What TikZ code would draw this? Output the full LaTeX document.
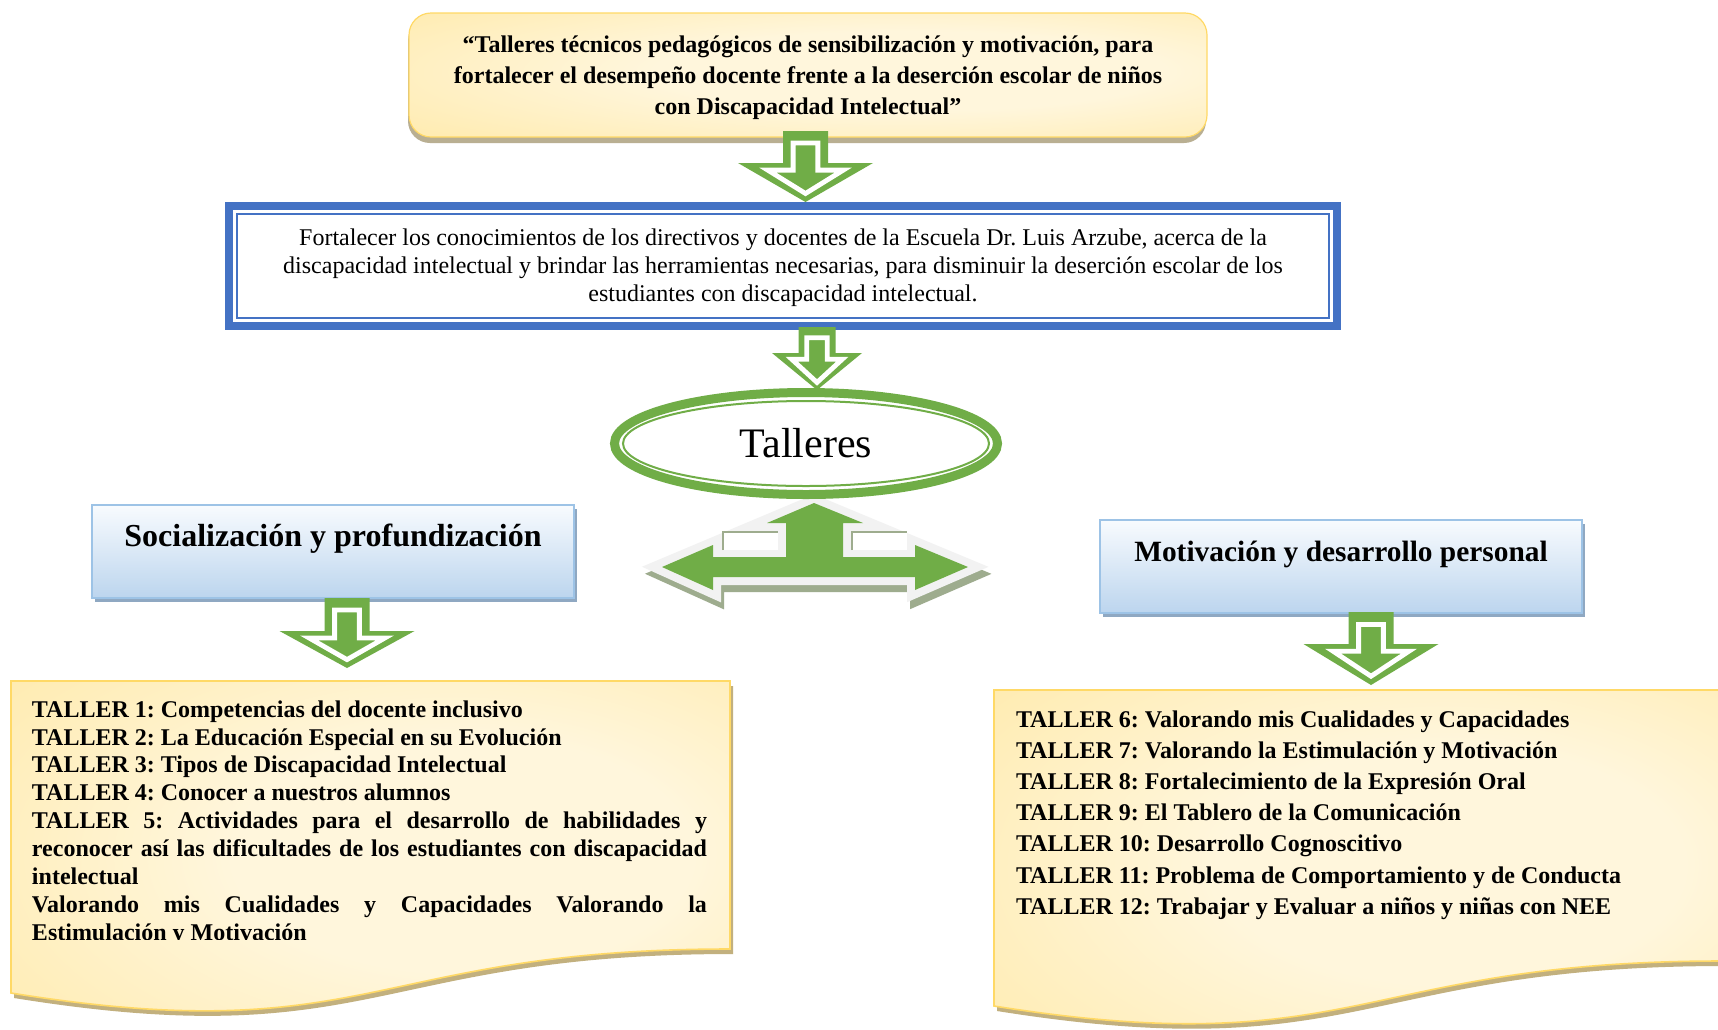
\documentclass[tikz,border=0pt]{standalone}
\usepackage{fontspec}
\setmainfont{Liberation Serif}
\usetikzlibrary{shapes.geometric,shadows}
\frenchspacing
\definecolor{agreen}{HTML}{70AD47}
\definecolor{ablue}{HTML}{4472C4}
\definecolor{ydark}{HTML}{FFD75C}
\definecolor{ymid}{HTML}{FFE8A2}
\definecolor{ylight}{HTML}{FFF6DC}
\definecolor{yborder}{HTML}{FFD966}
\definecolor{docshadow}{HTML}{C2B07E}
\definecolor{tshadow}{HTML}{B9AF92}
\definecolor{hdrtop}{HTML}{F8FBFE}
\definecolor{hdrbot}{HTML}{BCD5EE}
\definecolor{hdrborder}{HTML}{9DC3E6}
\definecolor{hdrshadow}{HTML}{8FA8C2}
\definecolor{bevel}{HTML}{F2F2F2}
\definecolor{trishadow}{HTML}{9EAC8E}
\pgfdeclareradialshading{docshade}{\pgfpoint{8bp}{2bp}}{color(0bp)=(ylight); color(16bp)=(ylight); color(46bp)=(ymid); color(80bp)=(ydark)}
\newcommand{\blockarrow}[6]{%
  \pgfmathsetmacro\baH{#4-#2}%
  \pgfmathsetmacro\baTi{#2+0.17*\baH}%
  \pgfmathsetmacro\baHi{#3+0.1*\baH}%
  \pgfmathsetmacro\baPi{#4-0.12*\baH}%
  \pgfmathsetmacro\baSi{0.55*#5}%
  \pgfmathsetmacro\baWi{0.56*#6}%
  \fill[agreen] ({#1-#5},#2) -- ({#1+#5},#2) -- ({#1+#5},#3) -- ({#1+#6},#3) -- (#1,#4) -- ({#1-#6},#3) -- ({#1-#5},#3) -- cycle;
  \filldraw[fill=agreen, draw=white, line width=2.4pt, line join=miter] ({#1-\baSi},\baTi) -- ({#1+\baSi},\baTi) -- ({#1+\baSi},\baHi) -- ({#1+\baWi},\baHi) -- (#1,\baPi) -- ({#1-\baWi},\baHi) -- ({#1-\baSi},\baHi) -- cycle;
}
\newcommand{\leftdoc}{(11,681) -- (730,681) -- (730,949) .. controls (370.5,949) and (370.5,1051) .. (11,993) -- cycle}
\newcommand{\rightdoc}{(994,690) -- (1722,690) -- (1722,961) .. controls (1358,961) and (1358,1064) .. (994,1006) -- cycle}
\newcommand{\trihull}{(814,503) -- (968,567) -- (915,590) -- (915,577) -- (713,577) -- (713,590) -- (662,567) -- cycle}
\newcommand{\trishape}{(814,503) -- (863,523) -- (843,523) -- (843,557) -- (915,557) -- (915,545) -- (968,567) -- (915,590) -- (915,577) -- (713,577) -- (713,590) -- (662,567) -- (713,545) -- (713,557) -- (786,557) -- (786,523) -- (767,523) -- cycle}
\begin{document}
\begin{tikzpicture}[x=0.5pt,y=-0.5pt,
  hdr/.style={draw=hdrborder, line width=0.8pt, top color=hdrtop, bottom color=hdrbot,
    minimum width=241pt, inner sep=0pt, outer sep=0pt, anchor=north,
    text height=20.75pt, text depth=25.75pt,
    drop shadow={shadow xshift=1.5pt, shadow yshift=-2pt, fill=hdrshadow, opacity=1}},
  doctext/.style={anchor=north west, inner sep=0pt, outer sep=0pt}]
\useasboundingbox (0,0) rectangle (1718,1029);
\fill[white] (0,0) rectangle (1718,1029);

% title box
\node[rounded corners=11pt, draw=yborder, line width=0.6pt, shade, shading=docshade,
  minimum width=399pt, minimum height=62pt, inner sep=0pt, outer sep=0pt,
  drop shadow={shadow xshift=-0.5pt, shadow yshift=-3pt, fill=tshadow, opacity=1}] (title) at (808,75) {};
\node[align=center, inner sep=0pt, font=\bfseries\fontsize{12}{15.5}\selectfont] (titletext) at ([yshift=-1.6pt]title.center)
  {“Talleres técnicos pedagógicos de sensibilización y motivación, para\\
   fortalecer el desempeño docente frente a la deserción escolar de niños\\
   con Discapacidad Intelectual”};

% objective box
\node[draw=ablue, line width=4pt, minimum width=554pt, minimum height=60pt, inner sep=0pt,
  outer sep=0pt, fill=white] (goal) at (783,266) {};
\draw[ablue, line width=1pt] ([shift={(8,-8)}]goal.south west) rectangle ([shift={(-8,8)}]goal.north east);
\node[align=center, inner sep=0pt, font=\fontsize{12}{14}\selectfont] (goaltext) at ([yshift=-1.1pt]goal.center)
  {Fortalecer los conocimientos de los directivos y docentes de la Escuela Dr. Luis Arzube, acerca de la\\
   discapacidad intelectual y brindar las herramientas necesarias, para disminuir la deserción escolar de los\\
   estudiantes con discapacidad intelectual.};

% arrow title -> goal
\blockarrow{805.5}{131}{163}{202}{22.5}{67.5}

% three-way arrow
\begin{scope}[shift={(3,7)}]
  \filldraw[fill=trishadow, draw=trishadow, line width=8pt, line join=miter] \trihull;
\end{scope}
\filldraw[fill=bevel, draw=bevel, line width=8pt, line join=miter] \trihull;
\fill[white] (723,532) rectangle (778,550);
\fill[white] (852,532) rectangle (907,550);
\draw[trishadow, line width=0.8pt] (723,550) -- (723,532) -- (778,532);
\draw[trishadow, line width=0.8pt] (852,550) -- (852,532) -- (907,532);
\fill[agreen] \trishape;

% talleres ellipse
\node[ellipse, draw=agreen, line width=4.5pt, fill=white, minimum width=191.5pt, minimum height=51pt,
  inner sep=0pt, outer sep=0pt, font=\fontsize{21}{25}\selectfont] (talleres) at (806,443.5) {Talleres};
\draw[agreen, line width=1pt] (talleres.center) ellipse [x radius=91.5pt, y radius=21.25pt];

% arrow goal -> talleres
\blockarrow{817}{327}{353}{390}{18.5}{45}

% headers
\node[hdr, font=\bfseries\fontsize{16}{19}\selectfont] (hdrL) at (333,505) {Socialización y profundización};
\node[hdr, font=\bfseries\fontsize{14.7}{18}\selectfont] (hdrR) at (1341,520) {Motivación y desarrollo personal};

\blockarrow{347}{598}{631}{668}{22.5}{67.5}
\blockarrow{1371}{612}{644}{685}{22.5}{67.5}

% documents
\begin{scope}[shift={(3,5)}]
  \fill[docshadow] \leftdoc;
  \fill[docshadow] \rightdoc;
\end{scope}
\shade[shading=docshade] \leftdoc;
\draw[yborder, line width=0.8pt] \leftdoc;
\shade[shading=docshade] \rightdoc;
\draw[yborder, line width=0.8pt] \rightdoc;

\begin{scope}
\clip (0,681) rectangle (760,939);
\node[doctext, text width=337.5pt, align=justify, font=\bfseries\fontsize{12}{13.95}\selectfont] (docL) at (32,700.5)
  {TALLER 1: Competencias del docente inclusivo\\
   TALLER 2: La Educación Especial en su Evolución\\
   TALLER 3: Tipos de Discapacidad Intelectual\\
   TALLER 4: Conocer a nuestros alumnos\\
   TALLER 5: Actividades para el desarrollo de habilidades y\linebreak
   reconocer así las dificultades de los estudiantes con discapacidad\linebreak
   intelectual\\
   Valorando mis Cualidades y Capacidades Valorando la\linebreak
   Estimulación y Motivación};
\end{scope}

\node[doctext, align=left, font=\bfseries\fontsize{12}{15.6}\selectfont] (docR) at (1016,710.5)
  {TALLER 6: Valorando mis Cualidades y Capacidades\\
   TALLER 7: Valorando la Estimulación y Motivación\\
   TALLER 8: Fortalecimiento de la Expresión Oral\\
   TALLER 9: El Tablero de la Comunicación\\
   TALLER 10: Desarrollo Cognoscitivo\\
   TALLER 11: Problema de Comportamiento y de Conducta\\
   TALLER 12: Trabajar y Evaluar a niños y niñas con NEE};
\end{tikzpicture}
\end{document}
